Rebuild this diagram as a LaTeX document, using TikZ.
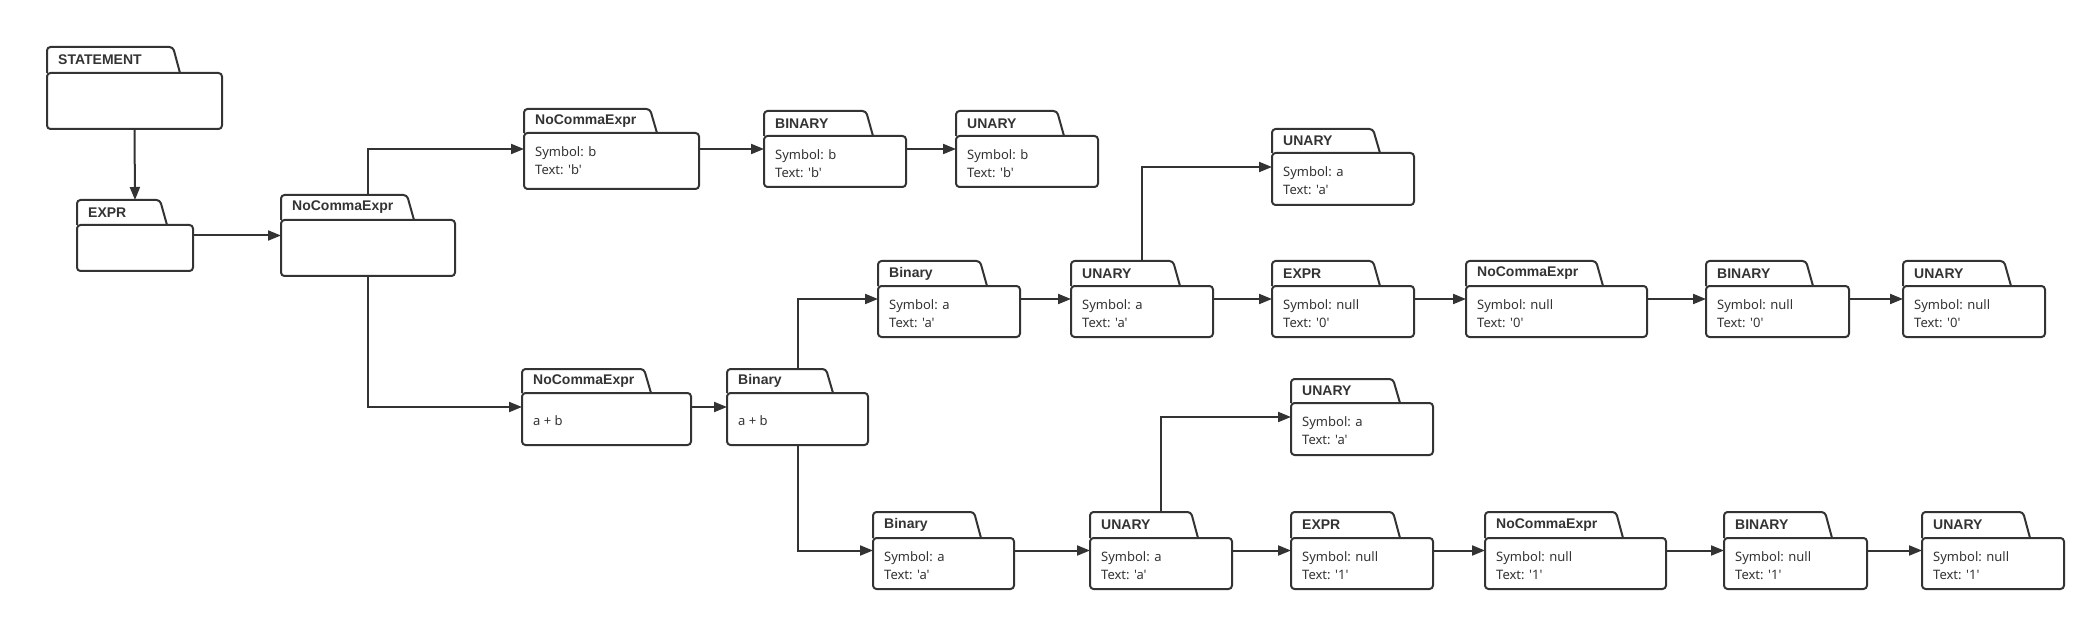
\documentclass[tikz,border=0pt]{standalone}
\usepackage{fontspec}
\setmainfont{Noto Sans}[Ligatures=TeXOff]
\newfontfamily\titlefont{Liberation Sans}[Ligatures=TeXOff]
\usetikzlibrary{arrows.meta}
\definecolor{linec}{HTML}{333333}
\definecolor{txtc}{HTML}{333333}
\tikzset{
  pkgbox/.style={inner sep=0pt, outer sep=0pt, draw=none},
  pkgline/.style={draw=linec, line width=2pt, line join=round},
  pkgtitle/.style={inner sep=0pt, anchor=west, text=txtc, font=\titlefont\bfseries\fontsize{14}{16}\selectfont},
  pkgtext/.style={inner sep=0pt, anchor=west, align=left, text=txtc, font=\fontsize{13}{18}\selectfont},
  arr/.style={draw=linec, line width=2pt, -{Triangle[length=13pt,width=10pt]}},
}
% name, left, tabtop, bodytop, right, bottom, tabright, title, body
\newcommand\pkg[9]{%
  \node[pkgbox, anchor=north west, minimum width={(#5-#2)*1pt}, minimum height={(#6-#3)*1pt}] (#1) at (#2,#3) {};
  \draw[pkgline, rounded corners=3.5pt] (#2,#4) -- (#2,#3) -- (#7,#3) -- (#7+7,#4);
  \draw[pkgline, rounded corners=3.5pt] (#2,#4) rectangle (#5,#6);
  \node[pkgtitle] (#1-t) at (#2+11,{(#3+#4)/2}) {#8};
  \if\relax\detokenize{#9}\relax\else
  \node[pkgtext] (#1-b) at (#2+11,#4+28) {#9};
  \fi
}
\begin{document}
\begin{tikzpicture}[x=1pt,y=-1pt]
\useasboundingbox (0,0) rectangle (2095,620);
\pkg{st}{47}{47}{73}{222}{129}{173}{STATEMENT}{}
\pkg{ex}{77}{200}{225}{193}{271}{160}{EXPR}{}
\pkg{nc}{281}{195}{220}{455}{276}{407}{NoCommaExpr}{}
\pkg{nceb}{524}{109}{133}{699}{189}{650}{NoCommaExpr}{Symbol: b\\Text: 'b'}
\pkg{binb}{764}{111}{136}{906}{187}{866}{BINARY}{Symbol: b\\Text: 'b'}
\pkg{unb}{956}{111}{136}{1098}{187}{1057}{UNARY}{Symbol: b\\Text: 'b'}
\pkg{nceab}{522}{369}{393}{691}{445}{644}{NoCommaExpr}{a + b}
\pkg{binab}{727}{369}{393}{868}{445}{826}{Binary}{a + b}
\pkg{binta}{878}{261}{286}{1020}{337}{980}{Binary}{Symbol: a\\Text: 'a'}
\pkg{unta}{1071}{261}{286}{1213}{337}{1173}{UNARY}{Symbol: a\\Text: 'a'}
\pkg{unua}{1272}{129}{153}{1414}{205}{1373}{UNARY}{Symbol: a\\Text: 'a'}
\pkg{ex0}{1272}{261}{286}{1414}{337}{1373}{EXPR}{Symbol: null\\Text: '0'}
\pkg{nc0}{1466}{261}{286}{1647}{337}{1596}{NoCommaExpr}{Symbol: null\\Text: '0'}
\pkg{bin0}{1706}{261}{286}{1849}{337}{1806}{BINARY}{Symbol: null\\Text: '0'}
\pkg{un0}{1903}{261}{286}{2045}{337}{2004}{UNARY}{Symbol: null\\Text: '0'}
\pkg{binba}{873}{512}{538}{1014}{589}{974}{Binary}{Symbol: a\\Text: 'a'}
\pkg{unba}{1090}{512}{538}{1232}{589}{1191}{UNARY}{Symbol: a\\Text: 'a'}
\pkg{unla}{1291}{379}{403}{1433}{455}{1393}{UNARY}{Symbol: a\\Text: 'a'}
\pkg{ex1}{1291}{512}{538}{1433}{589}{1393}{EXPR}{Symbol: null\\Text: '1'}
\pkg{nc1}{1485}{512}{538}{1666}{589}{1616}{NoCommaExpr}{Symbol: null\\Text: '1'}
\pkg{bin1}{1724}{512}{538}{1867}{589}{1825}{BINARY}{Symbol: null\\Text: '1'}
\pkg{un1}{1922}{512}{538}{2064}{589}{2023}{UNARY}{Symbol: null\\Text: '1'}
% connectors
\draw[arr] (st.south) -- (ex.north);
\draw[arr] (ex.east) -- (nc.west);
\draw[arr] (nc.north) |- (nceb.west);
\draw[arr] (nc.south) |- (nceab.west);
\draw[arr] (nceb.east) -- (binb.west);
\draw[arr] (binb.east) -- (unb.west);
\draw[arr] (nceab.east) -- (binab.west);
\draw[arr] (binab.north) |- (binta.west);
\draw[arr] (binab.south) |- (binba.west);
\draw[arr] (binta.east) -- (unta.west);
\draw[arr] (unta.north) |- (unua.west);
\draw[arr] (unta.east) -- (ex0.west);
\draw[arr] (ex0.east) -- (nc0.west);
\draw[arr] (nc0.east) -- (bin0.west);
\draw[arr] (bin0.east) -- (un0.west);
\draw[arr] (binba.east) -- (unba.west);
\draw[arr] (unba.north) |- (unla.west);
\draw[arr] (unba.east) -- (ex1.west);
\draw[arr] (ex1.east) -- (nc1.west);
\draw[arr] (nc1.east) -- (bin1.west);
\draw[arr] (bin1.east) -- (un1.west);
\end{tikzpicture}
\end{document}
